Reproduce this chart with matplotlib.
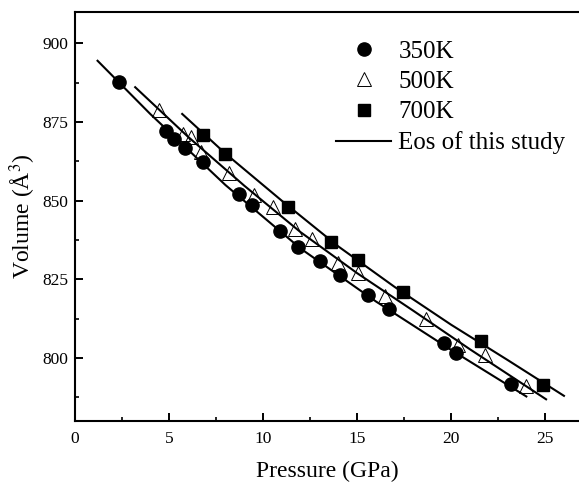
import numpy as np
import matplotlib
matplotlib.use("Agg")
import matplotlib.pyplot as plt
from matplotlib.ticker import MultipleLocator

plt.rcParams['font.family'] = ['Liberation Serif', 'DejaVu Serif']
plt.rcParams['mathtext.fontset'] = 'stix'

# measured points (pressure in GPa, volume in A^3)
p_350 = [2.36, 4.84, 5.28, 5.87, 6.82, 8.74, 9.40, 10.90, 11.88, 13.03, 14.11,
         15.60, 16.72, 19.61, 20.27, 23.19]
v_350 = [887.6, 872.1, 869.7, 866.8, 862.2, 852.3, 848.6, 840.5, 835.4, 830.8, 826.3,
         820.2, 815.7, 804.7, 801.5, 791.7]

p_500 = [4.49, 5.73, 6.17, 6.70, 8.21, 9.54, 10.51, 11.70, 12.59, 14.01, 15.07,
         16.51, 18.67, 20.39, 21.81, 23.99]
v_500 = [878.7, 871.1, 870.3, 865.4, 858.9, 851.7, 847.9, 840.9, 837.7, 830.1, 827.1,
         819.7, 812.3, 804.3, 800.9, 791.1]

p_700 = [6.79, 7.98, 11.31, 13.62, 15.04, 17.43, 21.60, 24.88]
v_700 = [871.0, 864.9, 848.1, 836.8, 831.1, 821.1, 805.4, 791.4]

# EoS curves
eos_p_350 = [1.2, 4.0, 8.0, 12.0, 16.0, 20.0, 24.0]
eos_v_350 = [894.5, 877.6, 855.0, 834.8, 818.0, 802.6, 787.8]
eos_p_500 = [3.2, 6.0, 9.0, 12.0, 15.0, 18.0, 21.0, 25.05]
eos_v_500 = [886.1, 870.4, 854.8, 840.0, 827.0, 815.0, 802.8, 786.9]
eos_p_700 = [5.7, 8.0, 11.0, 14.0, 17.0, 20.0, 23.0, 26.0]
eos_v_700 = [877.6, 865.0, 850.0, 835.5, 822.6, 810.6, 799.4, 788.0]

fig = plt.figure(figsize=(5.79, 4.83), dpi=100)
ax = fig.add_axes([75/579, 62/483, 504/579, 409/483])

ax.plot(eos_p_350, eos_v_350, color='black', lw=1.5, label='Eos of this study', zorder=2)
ax.plot(eos_p_500, eos_v_500, color='black', lw=1.5, zorder=2)
ax.plot(eos_p_700, eos_v_700, color='black', lw=1.5, zorder=2)

ax.plot(p_350, v_350, 'o', ms=9.5, color='black', label='350K', zorder=3)
ax.plot(p_500, v_500, '^', ms=10.5, mfc='none', mec='black', mew=0.7,
        label='500K', zorder=3)
ax.plot(p_700, v_700, 's', ms=8.5, color='black', label='700K', zorder=3)

ax.set_xlim(0, 26.8)
ax.set_ylim(780, 910)
ax.xaxis.set_major_locator(MultipleLocator(5))
ax.xaxis.set_minor_locator(MultipleLocator(2.5))
ax.yaxis.set_minor_locator(MultipleLocator(12.5))
ax.set_yticks([800, 825, 850, 875, 900])
ax.tick_params(which='major', direction='in', length=6, width=1.4, labelsize=12.5)
ax.tick_params(which='minor', direction='in', length=3, width=1.2)
ax.tick_params(axis='y', pad=5)
ax.tick_params(axis='x', pad=7)
for s in ['left', 'bottom', 'top']:
    ax.spines[s].set_linewidth(1.5)
ax.spines['right'].set_visible(False)

ax.set_xlabel('Pressure (GPa)', fontsize=17, labelpad=10)
ax.set_ylabel('Volume (Å$^{3}$)', fontsize=17, labelpad=3)

handles, labels = ax.get_legend_handles_labels()
order = [1, 2, 3, 0]
ax.legend([handles[i] for i in order], [labels[i] for i in order],
          loc='upper left', bbox_to_anchor=(336/579, 1 - 40/483),
          bbox_transform=fig.transFigure, frameon=False, fontsize=18,
          handlelength=2.2, handletextpad=0.3, labelspacing=0.32,
          borderpad=0, borderaxespad=0, numpoints=1)

fig.savefig('out.png', dpi=100)
